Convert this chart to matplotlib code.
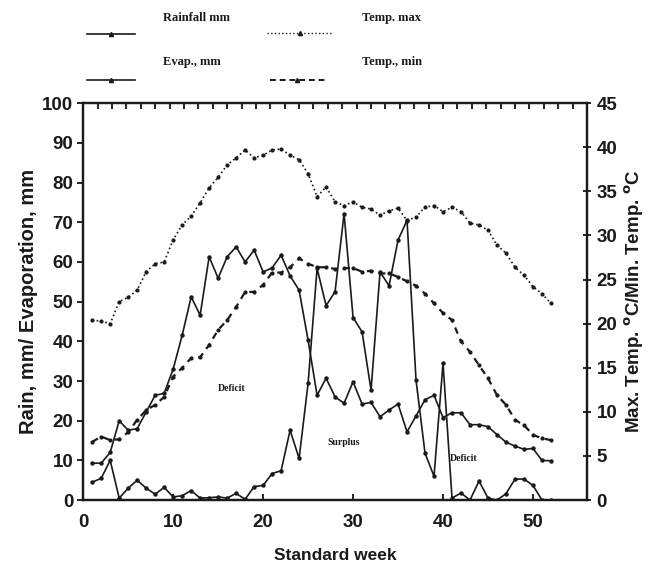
import numpy as np
import matplotlib
matplotlib.use('Agg')
import matplotlib.pyplot as plt
from matplotlib.lines import Line2D
from matplotlib.ticker import MultipleLocator

# weekly values
weeks = list(range(1, 53))

rainfall = [4.5, 5.5, 10, 0.5, 3, 5, 3, 1.5, 3.2, 0.8,
            1.1, 2.4, 0.5, 0.6, 0.8, 0.5, 1.7, 0.2, 3.4, 3.7,
            6.7, 7.4, 17.6, 10.5, 29.4, 58.4, 49, 52.5, 72.2, 46,
            42.4, 27.7, 57.5, 54, 65.5, 70.5, 30.2, 11.8, 6, 34.5,
            0.5, 1.8, 0, 4.8, 0.5, 0, 1.6, 5.3, 5.3, 3.7,
            0, 0]

evaporation = [9.3, 9.3, 12, 20, 17.6, 18, 22.2, 26.4, 26.9, 33,
               41.5, 51.2, 46.6, 61.3, 55.9, 61.3, 63.8, 60, 63, 57.5,
               58.5, 61.7, 56.5, 52.9, 40.3, 26.4, 30.7, 26, 24.4, 29.8,
               24.2, 24.6, 21, 22.7, 24.2, 17.2, 21.2, 25.3, 26.4, 20.8,
               22, 22, 19, 19, 18.5, 16.5, 14.6, 13.6, 12.8, 13,
               10, 9.9]

temp_max = [20.4, 20.3, 20.0, 22.5, 23.0, 23.8, 25.9, 26.8, 27.0, 29.5,
            31.2, 32.2, 33.7, 35.4, 36.6, 38.0, 38.8, 39.7, 38.8, 39.1,
            39.7, 39.8, 39.1, 38.6, 37.0, 34.4, 35.5, 33.8, 33.4, 33.8,
            33.2, 33.0, 32.3, 32.8, 33.1, 31.7, 32.1, 33.2, 33.4, 32.7,
            33.2, 32.7, 31.4, 31.2, 30.6, 28.9, 28.0, 26.4, 25.5, 24.2,
            23.4, 22.3]

temp_min = [6.6, 7.2, 6.8, 6.9, 7.7, 9.1, 10.2, 10.8, 11.7, 14.0,
            15.0, 16.1, 16.2, 17.6, 19.3, 20.4, 21.9, 23.6, 23.6, 24.4,
            25.8, 25.8, 26.4, 27.4, 26.8, 26.4, 26.4, 26.2, 26.3, 26.3,
            25.9, 26.0, 25.7, 25.7, 25.3, 24.8, 24.3, 23.4, 22.3, 21.2,
            20.4, 18.0, 16.8, 15.3, 13.8, 11.9, 10.8, 9.1, 8.5, 7.4,
            7.0, 6.8]

ink = '#1a1a1a'
sans = ['Liberation Sans', 'DejaVu Sans']
serif = ['Liberation Serif', 'DejaVu Serif']

fig = plt.figure(figsize=(6.5, 5.67), dpi=100)
ax = fig.add_axes([0.128, 0.118, 0.775, 0.700])
ax2 = ax.twinx()

# rain and evaporation on the left axis
ax.plot(weeks, rainfall, '-', color=ink, lw=1.2, marker='o', ms=2.2, zorder=3)
ax.plot(weeks, evaporation, '-', color=ink, lw=1.2, marker='o', ms=2.2, zorder=3)

# temperatures on the right axis
ax2.plot(weeks, temp_max, ':', color=ink, lw=1.2, marker='o', ms=2.0)
ax2.plot(weeks, temp_min, '--', color=ink, lw=1.6, dashes=(3, 2.5),
         marker='o', ms=2.0)

ax.set_xlim(0, 56)
ax.set_ylim(0, 100)
ax2.set_ylim(0, 45)

ax.xaxis.set_major_locator(MultipleLocator(10))
ax.yaxis.set_major_locator(MultipleLocator(10))
ax2.yaxis.set_major_locator(MultipleLocator(5))

ax.tick_params(axis='x', direction='in', length=4, width=1.2, pad=10)
ax.tick_params(axis='y', direction='out', length=4, width=1.2, pad=3)
ax2.tick_params(axis='y', direction='inout', length=6, width=1.2, pad=4)

# small inward ticks along the top frame
top = ax.secondary_xaxis('top')
top.set_xticks(np.arange(0, 56.1, 1.6))
top.tick_params(direction='in', length=4, width=1.2, labeltop=False)
top.spines['top'].set_visible(False)

for a in (ax, ax2):
    for sp in a.spines.values():
        sp.set_linewidth(1.6)
        sp.set_color(ink)
    for lab in a.get_xticklabels() + a.get_yticklabels():
        lab.set_family(sans)
        lab.set_fontweight('bold')
        lab.set_fontsize(13.5)
        lab.set_color(ink)

ax.set_xlabel('Standard week', family=sans, fontweight='bold', fontsize=12.5,
              color=ink, labelpad=12)
ax.set_ylabel('Rain, mm/ Evaporation, mm', family=sans, fontweight='bold',
              fontsize=14.5, color=ink, labelpad=3)
ax2.set_ylabel(r'Max. Temp. $^{\mathbf{o}}$C/Min. Temp. $^{\mathbf{o}}$C',
               family=sans, fontweight='bold', fontsize=13.5, color=ink,
               labelpad=4)

# region notes
ax.text(16.5, 28, 'Deficit', family=serif, fontweight='bold', fontsize=7,
        ha='center', va='center', color=ink)
ax.text(29, 14.5, 'Surplus', family=serif, fontweight='bold', fontsize=7,
        ha='center', va='center', color=ink)
ax.text(42.3, 10.6, 'Deficit', family=serif, fontweight='bold', fontsize=7,
        ha='center', va='center', color=ink)

# legend drawn above the frame: label on top, sample line below it
def legend_entry(label, x_text, y_text, x0, x1, y_line, ls, lw):
    fig.text(x_text, y_text, label, family=serif, fontweight='bold',
             fontsize=9, va='center', ha='left', color=ink)
    fig.add_artist(Line2D([x0, x1], [y_line, y_line], transform=fig.transFigure,
                          color=ink, ls=ls, lw=lw))
    fig.add_artist(Line2D([(x0 + x1) / 2], [y_line], transform=fig.transFigure,
                          color=ink, marker='^', ms=3, ls='none'))

legend_entry('Rainfall mm', 0.251, 0.968, 0.134, 0.208, 0.940, '-', 1.2)
legend_entry('Evap., mm', 0.251, 0.890, 0.134, 0.208, 0.859, '-', 1.2)
legend_entry('Temp. max', 0.557, 0.968, 0.411, 0.512, 0.942, ':', 1.0)
legend_entry('Temp., min', 0.557, 0.890, 0.415, 0.500, 0.859, (0, (3, 2)), 1.4)

fig.savefig('out.png', dpi=100, facecolor='white')
